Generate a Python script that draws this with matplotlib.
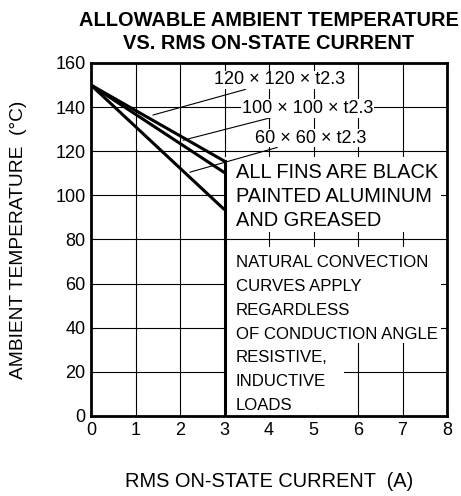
import matplotlib
matplotlib.use("Agg")
import matplotlib.pyplot as plt
from matplotlib.patches import Rectangle

plt.rcParams['font.family'] = ['Liberation Sans', 'DejaVu Sans']

x_pts = [0, 3]
series = {
    "120 × 120 × t2.3": [150, 115.5],
    "100 × 100 × t2.3": [150, 110.3],
    "60 × 60 × t2.3": [150, 93.5],
}
# label text position and leader end point (data coords)
label_pos = {
    "120 × 120 × t2.3": (2.76, 152.3),
    "100 × 100 × t2.3": (3.39, 139.5),
    "60 × 60 × t2.3": (3.68, 126),
}
leader_end = {
    "120 × 120 × t2.3": (1.39, 136.4),
    "100 × 100 × t2.3": (2.07, 125),
    "60 × 60 × t2.3": (2.22, 110.5),
}
xticks = [0, 1, 2, 3, 4, 5, 6, 7, 8]
yticks = [0, 20, 40, 60, 80, 100, 120, 140, 160]
note1 = ["ALL FINS ARE BLACK", "PAINTED ALUMINUM", "AND GREASED"]
note2 = ["NATURAL CONVECTION", "CURVES APPLY", "REGARDLESS",
         "OF CONDUCTION ANGLE", "RESISTIVE,", "INDUCTIVE", "LOADS"]

fig = plt.figure(figsize=(4.61, 4.96), dpi=100)
ax = fig.add_axes([91/461, 1-416/496, 356/461, 353/496])
ax.set_xlim(0, 8)
ax.set_ylim(0, 160)
ax.set_xticks(xticks)
ax.set_yticks(yticks)
ax.tick_params(length=0, labelsize=13, pad=4)
ax.grid(True, color='black', linewidth=0.8)
ax.set_axisbelow(True)
for s in ax.spines.values():
    s.set_linewidth(2)

# white backgrounds behind the note blocks
for (bx0, by0, bx1, by1) in [(3.0, 83.5, 7.87, 117.5),
                             (3.0, 33.0, 7.87, 76.4),
                             (3.0, 0.6, 5.69, 33.5)]:
    ax.add_patch(Rectangle((bx0, by0), bx1 - bx0, by1 - by0,
                           facecolor='white', edgecolor='none', zorder=2.5))

for name, ys in series.items():
    ax.plot(x_pts, ys, color='black', linewidth=2.2, solid_capstyle='butt', zorder=3)
ax.plot([3, 3], [0, max(v[1] for v in series.values())], color='black', linewidth=2.2, zorder=3)

for name in series:
    tx, ty = label_pos[name]
    ex, ey = leader_end[name]
    ax.annotate(name, xy=(ex, ey), xytext=(tx, ty), fontsize=13,
                ha='left', va='center', zorder=4,
                bbox=dict(boxstyle='square,pad=0.05', fc='white', ec='none'),
                arrowprops=dict(arrowstyle='-', color='black', lw=0.8,
                                shrinkA=0, shrinkB=0))

y0 = 110.2
for i, t in enumerate(note1):
    ax.text(3.25, y0 - i*10.7, t, fontsize=14.4, ha='left', va='center', zorder=4)
y0 = 69.5
for i, t in enumerate(note2):
    ax.text(3.25, y0 - i*10.8, t, fontsize=12.1, ha='left', va='center', zorder=4)

ax.set_xlabel("RMS ON-STATE CURRENT  (A)", fontsize=14.4, labelpad=24)
ax.set_ylabel("AMBIENT TEMPERATURE  (°C)", fontsize=13.8, labelpad=20)
ax.set_title("ALLOWABLE AMBIENT TEMPERATURE\nVS. RMS ON-STATE CURRENT",
             fontsize=14.4, fontweight='bold', pad=10, linespacing=1.3)

fig.savefig("out.png", dpi=100)
